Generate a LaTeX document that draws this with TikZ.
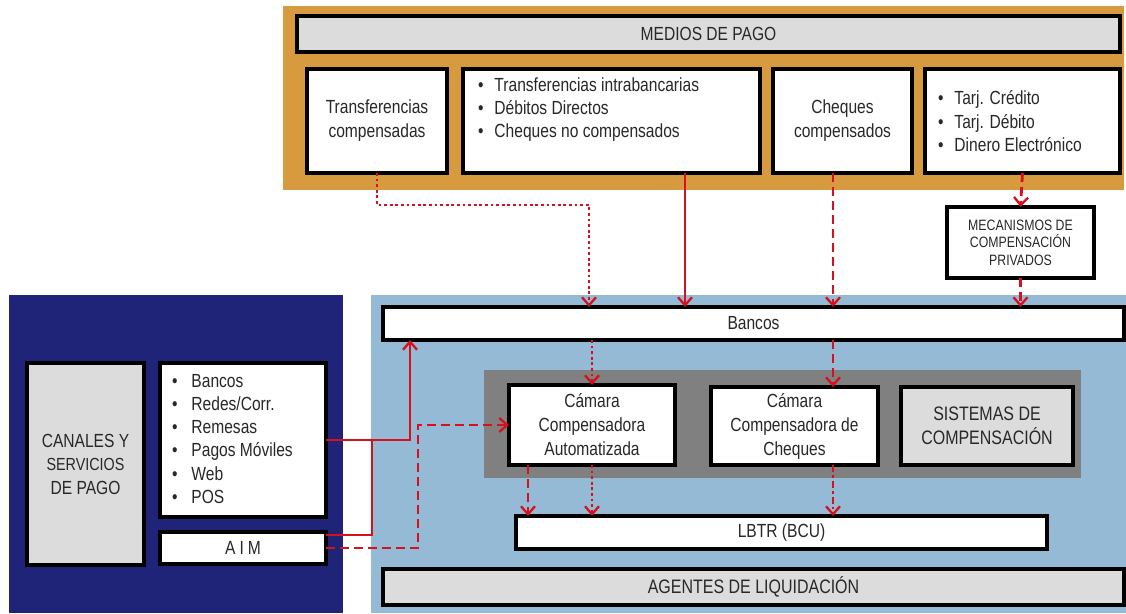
\documentclass[tikz,border=0pt]{standalone}
\usepackage{fontspec}
\setmainfont{Liberation Sans}[FakeStretch=0.82]
\usetikzlibrary{arrows.meta,calc}
\definecolor{orangebg}{RGB}{216,154,62}
\definecolor{darkbluebg}{RGB}{31,36,120}
\definecolor{lightbluebg}{RGB}{148,186,214}
\definecolor{graybg}{RGB}{128,128,128}
\definecolor{lightgr}{RGB}{220,220,220}
\definecolor{redline}{RGB}{214,16,28}
\definecolor{txt}{RGB}{40,40,40}
\newcommand\rbox[7]{\node[#2, minimum width={(#5)-(#3)}, minimum height={(#6)-(#4)}] (#1) at ({((#3)+(#5))/2},{((#4)+(#6))/2}) {#7};}
\tikzset{
  container/.style={inner sep=0pt, outer sep=0pt, draw=none},
  wbox/.style={draw=black, line width=3.2pt, fill=white, inner sep=0pt, outer sep=0pt, align=center, text=txt, font=\fontsize{19}{24}\selectfont},
  gbox/.style={wbox, fill=lightgr},
  listtext/.style={inner sep=0pt, outer sep=0pt, align=left, text=txt, anchor=north west},
  arr/.style={draw=redline, line width=2.8pt, -{Straight Barb[length=8pt,width=14pt,line width=2.3pt]}},
  plainred/.style={draw=redline, line width=2.8pt},
  dotline/.style={dash pattern=on 2.8pt off 2.8pt},
  dashline/.style={dash pattern=on 9pt off 5pt},
  dashdotline/.style={dash pattern=on 7pt off 3pt on 2.8pt off 3pt}
}
\begin{document}
\begin{tikzpicture}[x=1pt,y=-1pt]
\useasboundingbox (0,0) rectangle (1126,613);
% containers
\rbox{orange}{container, fill=orangebg}{283}{6}{1124}{190}{}
\rbox{darkblue}{container, fill=darkbluebg}{9}{295}{343}{613}{}
\rbox{lightblue}{container, fill=lightbluebg}{371}{295}{1126}{613}{}
\rbox{graycont}{container, fill=graybg}{484}{370}{1081}{478}{}
% top boxes
\rbox{medios}{gbox}{297}{16}{1120}{52}{MEDIOS DE PAGO}
\rbox{tc}{wbox}{307}{69}{447}{173}{Transferencias\\compensadas}
\rbox{lb}{wbox}{463}{69}{760}{173}{}
\rbox{cc}{wbox}{773}{69}{912}{173}{Cheques\\compensados}
\rbox{tarj}{wbox}{925}{69}{1120}{173}{}
\node[listtext, font=\fontsize{19}{23}\selectfont] (lbt) at (478,78) {\textbullet\hspace{11pt}Transferencias intrabancarias\\\textbullet\hspace{11pt}Débitos Directos\\\textbullet\hspace{11pt}Cheques no compensados};
\node[listtext, font=\fontsize{19}{23.5}\selectfont] (tarjt) at (938,91) {\textbullet\hspace{11pt}Tarj. Crédito\\\textbullet\hspace{11pt}Tarj. Débito\\\textbullet\hspace{11pt}Dinero Electrónico};
\rbox{mec}{wbox, font=\fontsize{15}{17.5}\selectfont}{947}{207}{1094}{278}{MECANISMOS DE\\COMPENSACIÓN\\PRIVADOS}
% left boxes
\rbox{canales}{gbox, font=\fontsize{19}{23.5}\selectfont}{27}{363}{144}{565}{CANALES Y\\{\fontsize{17.5}{23.5}\selectfont SERVICIOS}\\DE PAGO}
\rbox{list}{wbox}{160}{363}{326}{517}{}
\node[listtext, font=\fontsize{19}{23.3}\selectfont] (listt) at (172,374) {\textbullet\hspace{14pt}Bancos\\\textbullet\hspace{14pt}Redes/Corr.\\\textbullet\hspace{14pt}Remesas\\\textbullet\hspace{14pt}Pagos Móviles\\\textbullet\hspace{14pt}Web\\\textbullet\hspace{14pt}POS};
\rbox{aim}{wbox}{160}{532}{326}{564}{A\hspace{4pt}I\hspace{4pt}M}
% right boxes
\rbox{bancos}{wbox}{383}{307}{1124}{340}{Bancos}
\rbox{cca}{wbox}{509}{385}{675}{465}{Cámara\\Compensadora\\Automatizada}
\rbox{ccc}{wbox}{711}{387}{878}{465}{Cámara\\Compensadora de\\Cheques}
\rbox{sis}{gbox, font=\fontsize{19.5}{24}\selectfont}{901}{387}{1073}{465}{SISTEMAS DE\\COMPENSACIÓN}
\rbox{lbtr}{wbox}{516}{516}{1047}{549}{LBTR (BCU)}
\rbox{agentes}{gbox, font=\fontsize{19.5}{24}\selectfont}{383}{569}{1124}{605}{AGENTES DE LIQUIDACIÓN}
% helper coordinates
\coordinate (k4) at (589,205);
\coordinate (c685) at (685,0);
\coordinate (c833) at (833,0);
\coordinate (c528) at (528,0);
\coordinate (k2) at (410,0);
\coordinate (k3) at (372,0);
\coordinate (k1) at (418,0);
% connectors top
\draw[arr, dotline] (tc.south) |- (k4) -- (k4 |- bancos.north);
\draw[arr] (c685 |- lb.south) -- (c685 |- bancos.north);
\draw[arr, dashline] (c833 |- cc.south) -- (c833 |- bancos.north);
\draw[arr, dashline] (tarj.south) -- (mec.north);
\draw[arr, dashline] (mec.south) -- (mec.south |- bancos.north);
% bancos to camaras
\draw[arr, dotline] (cca.north |- bancos.south) -- (cca.north);
\draw[arr, dashline] (c833 |- bancos.south) -- (c833 |- ccc.north);
% camaras to lbtr
\draw[arr, dashline] (c528 |- cca.south) -- (c528 |- lbtr.north);
\draw[arr, dotline] (cca.south) -- (cca.south |- lbtr.north);
\draw[arr, dashdotline] (c833 |- ccc.south) -- (c833 |- lbtr.north);
% left connectors
\draw[plainred] ([yshift=13pt]aim.east) -| (k3 |- list.east);
\draw[arr] (list.east) -| (k2 |- bancos.south);
\draw[arr, dashline] (aim.east) -| (k1 |- cca.west) -- (cca.west);
\end{tikzpicture}
\end{document}
